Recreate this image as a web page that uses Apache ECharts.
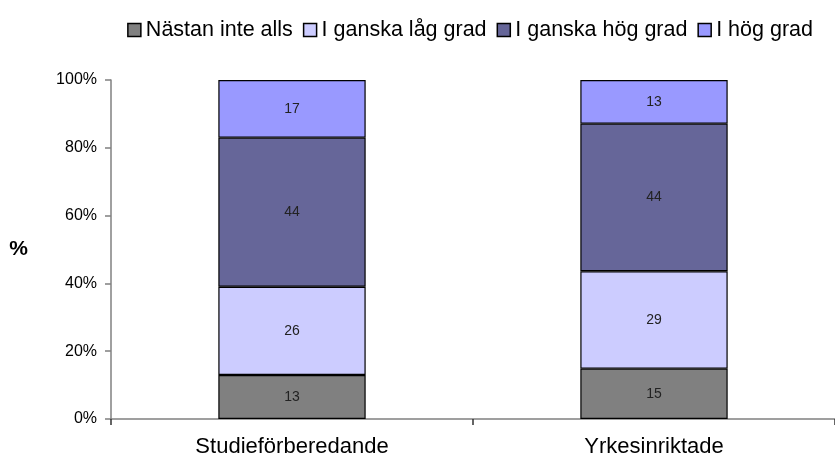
<!DOCTYPE html>
<html>
<head>
<meta charset="utf-8">
<script src="https://cdn.jsdelivr.net/npm/echarts@6/dist/echarts.min.js"></script>
<style>
  html, body { margin: 0; padding: 0; background: #fff; }
  #chart { width: 835px; height: 459px; }
</style>
</head>
<body>
<div id="chart"></div>
<script>
  // categories and series (values as printed in the bars, percent)
  var categories = ['Studieförberedande', 'Yrkesinriktade'];
  var seriesNames = ['Nästan inte alls', 'I ganska låg grad', 'I ganska hög grad', 'I hög grad'];
  var nastanInteAlls = [13, 15];
  var ganskaLag = [26, 29];
  var ganskaHog = [44, 44];
  var hogGrad = [17, 13];
  var yTicks = ['0%', '20%', '40%', '60%', '80%', '100%'];
  var colors = ['#808080', '#CCCCFF', '#666699', '#9999FF'];

  var rows = [nastanInteAlls, ganskaLag, ganskaHog, hogGrad];
  // 100% stacked: normalise each category to its total
  var totals = categories.map(function (c, i) {
    return rows.reduce(function (s, r) { return s + r[i]; }, 0);
  });

  var series = rows.map(function (r, k) {
    return {
      name: seriesNames[k],
      type: 'bar',
      stack: 'total',
      barWidth: '40.7%',
      data: r.map(function (v, i) { return { value: v / totals[i] * 100, raw: v }; }),
      itemStyle: { color: colors[k], borderColor: '#000', borderWidth: 1.2 },
      label: {
        show: true,
        position: 'inside',
        fontFamily: 'Liberation Sans',
        fontSize: 14,
        color: '#222',
        formatter: function (p) { return p.data.raw; }
      }
    };
  });

  var option = {
    animation: false,
    color: colors,
    legend: {
      top: 14,
      right: 17,
      icon: 'rect',
      itemWidth: 13,
      itemHeight: 13,
      itemGap: 10,
      textStyle: { fontFamily: 'Liberation Sans', fontSize: 21.5, color: '#000', padding: [0, 0, 8, 0] },
      itemStyle: { borderColor: '#000', borderWidth: 1.5 },
      data: seriesNames
    },
    grid: { left: 111, right: -4, top: 80, bottom: 40 },
    xAxis: {
      type: 'category',
      data: categories,
      axisLine: { lineStyle: { color: '#808080', width: 1.5 } },
      axisTick: { show: true, length: 6, lineStyle: { color: '#333', width: 1.5 } },
      axisLabel: { fontFamily: 'Liberation Sans', fontSize: 22, color: '#000', margin: 17 }
    },
    yAxis: {
      type: 'value',
      min: 0,
      max: 100,
      interval: 20,
      name: '%',
      nameLocation: 'middle',
      nameRotate: 0,
      nameGap: 83,
      nameTextStyle: { fontFamily: 'Liberation Sans', fontSize: 21, fontWeight: 'bold', color: '#000' },
      splitLine: { show: false },
      axisLine: { show: true, lineStyle: { color: '#808080', width: 1.5 } },
      axisTick: { show: true, length: 6, lineStyle: { color: '#808080', width: 1.5 } },
      axisLabel: {
        fontFamily: 'Liberation Sans',
        fontSize: 16,
        color: '#000',
        margin: 14,
        formatter: function (v) { return yTicks[v / 20]; }
      }
    },
    series: series
  };

  var chart = echarts.init(document.getElementById('chart'));
  chart.setOption(option);
</script>
</body>
</html>
